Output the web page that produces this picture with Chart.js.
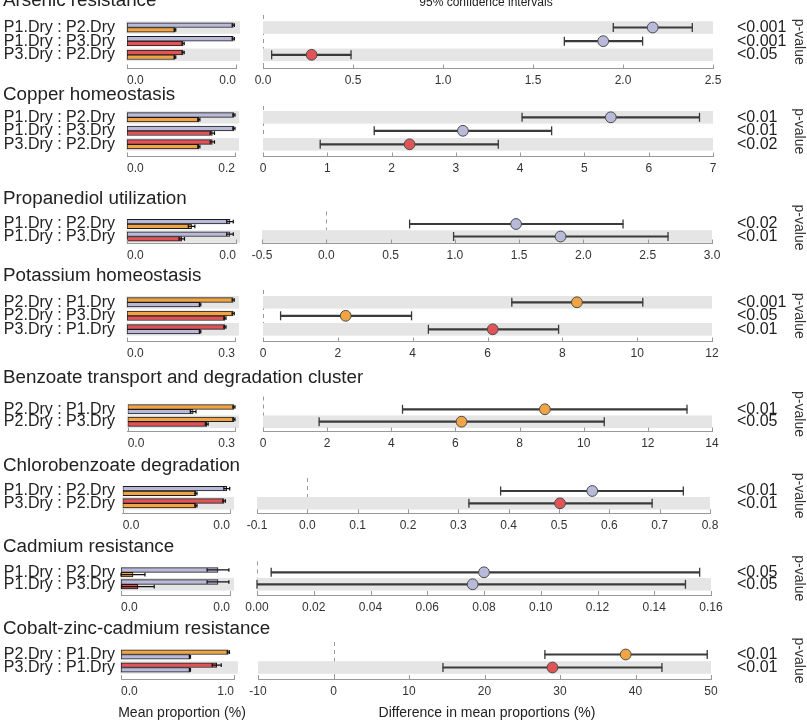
<!DOCTYPE html>
<html>
<head>
<meta charset="utf-8">
<script src="https://cdn.jsdelivr.net/npm/chart.js@4.4.1/dist/chart.umd.min.js"></script>
<style>
	body { margin: 0; background: #fff; font-family: "Liberation Sans", Arial, sans-serif; }
	#wrap { position: relative; width: 807px; height: 724px; overflow: hidden; background: #fff; }
	#wrap canvas { position: absolute; }
	.title { position: absolute; left: 3px; font-size: 18.8px; line-height: 18.8px; color: #222; white-space: nowrap; }
	.axisLabel { position: absolute; font-size: 14px; line-height: 14px; color: #222; white-space: nowrap; transform: translateX(-50%); }
</style>
</head>
<body>
<div id="wrap"></div>
<script>
/* Arsenic resistance */
const arsenicRows = ["P1.Dry : P2.Dry", "P1.Dry : P3.Dry", "P3.Dry : P2.Dry"];
const arsenicMeanA = [0.0390, 0.0390, 0.0206];
const arsenicErrA = [0.0004, 0.0004, 0.0004];
const arsenicMeanB = [0.0176, 0.0206, 0.0176];
const arsenicErrB = [0.0003, 0.0004, 0.0003];
const arsenicMeanTicks = [0, 0.04];
const arsenicDiff = [2.165, 1.890, 0.270];
const arsenicLow = [1.946, 1.674, 0.048];
const arsenicHigh = [2.385, 2.109, 0.489];
const arsenicPValues = ["<0.001", "<0.001", "<0.05"];
const arsenicDiffTicks = [0, 2.5, 0.5];

/* Copper homeostasis */
const copperRows = ["P1.Dry : P2.Dry", "P1.Dry : P3.Dry", "P3.Dry : P2.Dry"];
const copperMeanA = [0.198, 0.198, 0.158];
const copperErrA = [0.002, 0.002, 0.004];
const copperMeanB = [0.133, 0.158, 0.133];
const copperErrB = [0.002, 0.004, 0.002];
const copperMeanTicks = [0, 0.2];
const copperDiff = [5.41, 3.11, 2.28];
const copperLow = [4.03, 1.73, 0.89];
const copperHigh = [6.79, 4.49, 3.66];
const copperPValues = ["<0.01", "<0.01", "<0.02"];
const copperDiffTicks = [0, 7, 1];

/* Propanediol utilization */
const propanediolRows = ["P1.Dry : P2.Dry", "P1.Dry : P3.Dry"];
const propanediolMeanA = [0.0378, 0.0378];
const propanediolErrA = [0.0012, 0.0012];
const propanediolMeanB = [0.0237, 0.0201];
const propanediolErrB = [0.0012, 0.0010];
const propanediolMeanTicks = [0, 0.04];
const propanediolDiff = [1.476, 1.822];
const propanediolLow = [0.648, 0.990];
const propanediolHigh = [2.308, 2.658];
const propanediolPValues = ["<0.02", "<0.01"];
const propanediolDiffTicks = [-0.5, 3.0, 0.5];

/* Potassium homeostasis */
const potassiumRows = ["P2.Dry : P1.Dry", "P2.Dry : P3.Dry", "P3.Dry : P1.Dry"];
const potassiumMeanA = [0.295, 0.295, 0.272];
const potassiumErrA = [0.003, 0.003, 0.003];
const potassiumMeanB = [0.203, 0.272, 0.203];
const potassiumErrB = [0.002, 0.003, 0.002];
const potassiumMeanTicks = [0, 0.3];
const potassiumDiff = [8.39, 2.21, 6.14];
const potassiumLow = [6.65, 0.47, 4.42];
const potassiumHigh = [10.15, 3.97, 7.90];
const potassiumPValues = ["<0.001", "<0.05", "<0.01"];
const potassiumDiffTicks = [0, 12, 2];

/* Benzoate transport and degradation cluster */
const benzoateRows = ["P2.Dry : P1.Dry", "P2.Dry : P3.Dry"];
const benzoateMeanA = [0.297, 0.297];
const benzoateErrA = [0.003, 0.003];
const benzoateMeanB = [0.183, 0.221];
const benzoateErrB = [0.008, 0.004];
const benzoateMeanTicks = [0, 0.3];
const benzoateDiff = [8.79, 6.19];
const benzoateLow = [4.35, 1.75];
const benzoateHigh = [13.22, 10.64];
const benzoatePValues = ["<0.01", "<0.05"];
const benzoateDiffTicks = [0, 14, 2];

/* Chlorobenzoate degradation */
const chloroRows = ["P1.Dry : P2.Dry", "P3.Dry : P2.Dry"];
const chloroMeanA = [0.0388, 0.0378];
const chloroErrA = [0.0011, 0.0005];
const chloroMeanB = [0.0273, 0.0273];
const chloroErrB = [0.0004, 0.0004];
const chloroMeanTicks = [0, 0.04];
const chloroDiff = [0.566, 0.502];
const chloroLow = [0.384, 0.321];
const chloroHigh = [0.747, 0.685];
const chloroPValues = ["<0.01", "<0.01"];
const chloroDiffTicks = [-0.1, 0.8, 0.1];

/* Cadmium resistance */
const cadmiumRows = ["P1.Dry : P2.Dry", "P1.Dry : P3.Dry"];
const cadmiumMeanA = [0.00356, 0.00356];
const cadmiumErrA = [0.0004, 0.0004];
const cadmiumMeanB = [0.00044, 0.00062];
const cadmiumErrB = [0.00044, 0.0006];
const cadmiumMeanTicks = [0, 0.004];
const cadmiumDiff = [0.080, 0.076];
const cadmiumLow = [0.005, 0.000];
const cadmiumHigh = [0.156, 0.151];
const cadmiumPValues = ["<0.05", "<0.05"];
const cadmiumDiffTicks = [0, 0.16, 0.02];

/* Cobalt-zinc-cadmium resistance */
const cobaltRows = ["P2.Dry : P1.Dry", "P3.Dry : P1.Dry"];
const cobaltMeanA = [0.95, 0.847];
const cobaltErrA = [0.01, 0.04];
const cobaltMeanB = [0.61, 0.61];
const cobaltErrB = [0.005, 0.005];
const cobaltMeanTicks = [0, 1.0];
const cobaltDiff = [38.7, 29.0];
const cobaltLow = [28.0, 14.5];
const cobaltHigh = [49.5, 43.5];
const cobaltPValues = ["<0.01", "<0.01"];
const cobaltDiffTicks = [-10, 50, 10];

const groupColors = { P1: "#b9b9d9", P2: "#f1a443", P3: "#e05458" };

const panels = [
	{ title: "Arsenic resistance", rows: arsenicRows, meanA: arsenicMeanA, errA: arsenicErrA, meanB: arsenicMeanB, errB: arsenicErrB, meanTicks: arsenicMeanTicks, diff: arsenicDiff, low: arsenicLow, high: arsenicHigh, p: arsenicPValues, diffTicks: arsenicDiffTicks },
	{ title: "Copper homeostasis", rows: copperRows, meanA: copperMeanA, errA: copperErrA, meanB: copperMeanB, errB: copperErrB, meanTicks: copperMeanTicks, diff: copperDiff, low: copperLow, high: copperHigh, p: copperPValues, diffTicks: copperDiffTicks },
	{ title: "Propanediol utilization", rows: propanediolRows, meanA: propanediolMeanA, errA: propanediolErrA, meanB: propanediolMeanB, errB: propanediolErrB, meanTicks: propanediolMeanTicks, diff: propanediolDiff, low: propanediolLow, high: propanediolHigh, p: propanediolPValues, diffTicks: propanediolDiffTicks },
	{ title: "Potassium homeostasis", rows: potassiumRows, meanA: potassiumMeanA, errA: potassiumErrA, meanB: potassiumMeanB, errB: potassiumErrB, meanTicks: potassiumMeanTicks, diff: potassiumDiff, low: potassiumLow, high: potassiumHigh, p: potassiumPValues, diffTicks: potassiumDiffTicks },
	{ title: "Benzoate transport and degradation cluster", rows: benzoateRows, meanA: benzoateMeanA, errA: benzoateErrA, meanB: benzoateMeanB, errB: benzoateErrB, meanTicks: benzoateMeanTicks, diff: benzoateDiff, low: benzoateLow, high: benzoateHigh, p: benzoatePValues, diffTicks: benzoateDiffTicks },
	{ title: "Chlorobenzoate degradation", rows: chloroRows, meanA: chloroMeanA, errA: chloroErrA, meanB: chloroMeanB, errB: chloroErrB, meanTicks: chloroMeanTicks, diff: chloroDiff, low: chloroLow, high: chloroHigh, p: chloroPValues, diffTicks: chloroDiffTicks },
	{ title: "Cadmium resistance", rows: cadmiumRows, meanA: cadmiumMeanA, errA: cadmiumErrA, meanB: cadmiumMeanB, errB: cadmiumErrB, meanTicks: cadmiumMeanTicks, diff: cadmiumDiff, low: cadmiumLow, high: cadmiumHigh, p: cadmiumPValues, diffTicks: cadmiumDiffTicks },
	{ title: "Cobalt-zinc-cadmium resistance", rows: cobaltRows, meanA: cobaltMeanA, errA: cobaltErrA, meanB: cobaltMeanB, errB: cobaltErrB, meanTicks: cobaltMeanTicks, diff: cobaltDiff, low: cobaltLow, high: cobaltHigh, p: cobaltPValues, diffTicks: cobaltDiffTicks },
];

// page positions of each panel (title baseline, row centres, axis line, plot edges)
const layout = [
	{ base: 7, top: 15, rowY: [27.5, 41.2, 54.8], axisY: 68.5, lL: 127, lR: 236, rL: 263, rR: 713 },
	{ base: 101, top: 106, rowY: [117.3, 130.8, 144.3], axisY: 156.5, lL: 127, lR: 235, rL: 263, rR: 713 },
	{ base: 205, top: 211.5, rowY: [224, 236.5], axisY: 243.5, lL: 127, lR: 236, rL: 262, rR: 712 },
	{ base: 281.7, top: 290, rowY: [302.3, 315.7, 329.3], axisY: 341.5, lL: 127, lR: 235, rL: 263, rR: 712 },
	{ base: 384.3, top: 396.5, rowY: [409.3, 421.7], axisY: 431.5, lL: 127.7, lR: 235, rL: 263, rR: 712 },
	{ base: 471.7, top: 478, rowY: [491, 503.3], axisY: 513.3, lL: 122.7, lR: 230, rL: 257, rR: 710 },
	{ base: 553.3, top: 561.5, rowY: [572.3, 584.3], axisY: 595, lL: 121, lR: 230, rL: 257, rR: 711 },
	{ base: 635, top: 642, rowY: [654.5, 667.5], axisY: 679, lL: 121, lR: 234, rL: 258, rR: 711 },
];

Chart.defaults.font.family = '"Liberation Sans", Arial, sans-serif';
Chart.defaults.color = "#333";

const wrap = document.getElementById("wrap");
const LEFT_W = 245;
const RIGHT_X = 240;
const RIGHT_W = 807 - RIGHT_X;
const P_LABEL_X = 737;
const ROW_LABEL_END = 115;

function makeCanvas(left, top, w, h) {
	const c = document.createElement("canvas");
	c.width = w;
	c.height = h;
	c.style.left = left + "px";
	c.style.top = top + "px";
	c.style.width = w + "px";
	c.style.height = h + "px";
	wrap.appendChild(c);
	return c;
}

function addText(cls, text, left, top) {
	const d = document.createElement("div");
	d.className = cls;
	d.textContent = text;
	d.style.left = left + "px";
	d.style.top = top + "px";
	wrap.appendChild(d);
	return d;
}

function geometry(lay, n) {
	const pitch = (lay.rowY[n - 1] - lay.rowY[0]) / (n - 1);
	const canvasTop = Math.floor(lay.top) - 14;
	const H = Math.ceil(lay.axisY - canvasTop) + 24;
	return {
		canvasTop: canvasTop,
		H: H,
		padTop: lay.top - canvasTop,
		xH: H - (lay.axisY - canvasTop),
		yMin: -(lay.rowY[0] - lay.top) / pitch,
		yMax: (lay.axisY - lay.rowY[0]) / pitch,
	};
}

function groupOf(label, side) {
	const part = label.split(" : ")[side];
	return groupColors[part.slice(0, 2)];
}

function decimalsFor(step) {
	return Math.max(0, Math.ceil(-Math.log10(step) - 1e-9));
}

// grey bands on alternate rows, counted from the bottom row
function drawBands(chart, n, extraRight) {
	const { ctx, chartArea: a, scales: { y } } = chart;
	ctx.fillStyle = "#e5e5e5";
	const x0 = a.left - (extraRight ? 1 : 0);
	for (let i = n - 1; i >= 0; i -= 2) {
		const py = y.getPixelForValue(i);
		ctx.fillRect(x0, py - 6.3, a.right + extraRight - x0, 12.6);
	}
}

// short tick marks pointing up from the axis line
function drawInnerTicks(chart) {
	const { ctx, chartArea: a, scales: { x } } = chart;
	ctx.save();
	ctx.strokeStyle = "#999";
	ctx.lineWidth = 1;
	x.ticks.forEach((t) => {
		const px = Math.round(x.getPixelForValue(t.value)) + 0.5;
		ctx.beginPath();
		ctx.moveTo(px, a.bottom);
		ctx.lineTo(px, a.bottom - 4);
		ctx.stroke();
	});
	ctx.restore();
}

// invisible tick marks give the label gap without the padding pushing the plot area
function gapGrid(gap) {
	return { display: true, drawOnChartArea: false, drawTicks: true, tickLength: gap, color: "rgba(0,0,0,0)" };
}

const noGrid = { display: false, drawTicks: false };

function leftChart(p, lay) {
	const n = p.rows.length;
	const g = geometry(lay, n);
	const cv = makeCanvas(0, g.canvasTop, LEFT_W, g.H);
	const errs = [p.errA, p.errB];

	new Chart(cv, {
		type: "bar",
		data: {
			datasets: [
				{
					data: p.rows.map((r, i) => ({ x: p.meanA[i], y: i })),
					backgroundColor: p.rows.map((r) => groupOf(r, 0)),
				},
				{
					data: p.rows.map((r, i) => ({ x: p.meanB[i], y: i })),
					backgroundColor: p.rows.map((r) => groupOf(r, 1)),
				},
			],
		},
		options: {
			indexAxis: "y",
			responsive: false,
			animation: false,
			layout: { padding: { top: g.padTop, right: LEFT_W - lay.lR, left: 0, bottom: 0 } },
			plugins: { legend: { display: false }, tooltip: { enabled: false } },
			datasets: {
				bar: { barThickness: 4.7, borderWidth: 1, borderColor: "#1b1b1b", borderSkipped: false },
			},
			scales: {
				x: {
					type: "linear",
					min: p.meanTicks[0],
					max: p.meanTicks[1],
					offset: false,
					grid: noGrid,
					border: { display: true, color: "#999", width: 1 },
					afterBuildTicks: (s) => { s.ticks = p.meanTicks.map((v) => ({ value: v })); },
					afterFit: (s) => { s.height = g.xH; },
					ticks: {
						align: "inner",
						padding: 5,
						color: "#333",
						font: { size: 12 },
						maxRotation: 0,
						autoSkip: false,
						callback: (v) => Number(v).toFixed(1),
					},
				},
				y: {
					type: "linear",
					reverse: true,
					offset: false,
					min: g.yMin,
					max: g.yMax,
					grid: gapGrid(lay.lL - ROW_LABEL_END),
					border: { display: false },
					afterBuildTicks: (s) => { s.ticks = p.rows.map((r, i) => ({ value: i })); },
					afterFit: (s) => { s.width = lay.lL; },
					ticks: {
						padding: 0,
						autoSkip: false,
						color: "#222",
						font: { size: 16, lineHeight: 1 },
						callback: (v) => p.rows[Math.round(v)],
					},
				},
			},
		},
		plugins: [
			{
				id: "leftDecor",
				beforeDatasetsDraw(chart) {
					chart.ctx.save();
					drawBands(chart, n, 4);
					chart.ctx.restore();
				},
				afterDatasetsDraw(chart) {
					const { ctx, scales: { x } } = chart;
					ctx.save();
					ctx.strokeStyle = "#111";
					ctx.lineWidth = 1.2;
					[0, 1].forEach((d) => {
						const meta = chart.getDatasetMeta(d);
						const vals = d === 0 ? p.meanA : p.meanB;
						meta.data.forEach((bar, i) => {
							const x1 = x.getPixelForValue(vals[i] - errs[d][i]);
							const x2 = x.getPixelForValue(vals[i] + errs[d][i]);
							ctx.beginPath();
							ctx.moveTo(x1, bar.y);
							ctx.lineTo(x2, bar.y);
							ctx.moveTo(x1, bar.y - 1.8);
							ctx.lineTo(x1, bar.y + 1.8);
							ctx.moveTo(x2, bar.y - 1.8);
							ctx.lineTo(x2, bar.y + 1.8);
							ctx.stroke();
						});
					});
					ctx.restore();
				},
				afterDraw(chart) {
					drawInnerTicks(chart);
				},
			},
		],
	});
}

function rightChart(p, lay) {
	const n = p.rows.length;
	const g = geometry(lay, n);
	const cv = makeCanvas(RIGHT_X, g.canvasTop, RIGHT_W, g.H);
	const dec = decimalsFor(p.diffTicks[2]);

	new Chart(cv, {
		type: "bar",
		data: {
			datasets: [
				{
					type: "scatter",
					data: p.rows.map((r, i) => ({ x: p.diff[i], y: i })),
					pointRadius: 5.4,
					pointBackgroundColor: p.rows.map((r) => groupOf(r, 0)),
					pointBorderColor: "#4a4a4a",
					pointBorderWidth: 1,
				},
				{
					type: "bar",
					data: p.rows.map((r, i) => ({ x: [p.low[i], p.high[i]], y: i })),
					backgroundColor: "#3a3a3a",
					barThickness: 1.5,
					borderWidth: 0,
				},
			],
		},
		options: {
			indexAxis: "y",
			responsive: false,
			animation: false,
			layout: { padding: { top: g.padTop, left: lay.rL - RIGHT_X, right: 0, bottom: 0 } },
			plugins: { legend: { display: false }, tooltip: { enabled: false } },
			scales: {
				x: {
					type: "linear",
					min: p.diffTicks[0],
					max: p.diffTicks[1],
					offset: false,
					grid: noGrid,
					border: { display: true, color: "#999", width: 1 },
					afterFit: (s) => { s.height = g.xH; },
					ticks: {
						stepSize: p.diffTicks[2],
						padding: 5,
						color: "#333",
						font: { size: 12 },
						maxRotation: 0,
						autoSkip: false,
						callback: (v) => Number(v).toFixed(dec),
					},
				},
				y: {
					type: "linear",
					position: "right",
					reverse: true,
					offset: false,
					min: g.yMin,
					max: g.yMax,
					grid: gapGrid(P_LABEL_X - lay.rR),
					border: { display: false },
					afterBuildTicks: (s) => { s.ticks = p.rows.map((r, i) => ({ value: i })); },
					afterFit: (s) => { s.width = 807 - lay.rR; },
					ticks: {
						padding: 0,
						autoSkip: false,
						color: "#222",
						font: { size: 16, lineHeight: 1 },
						callback: (v) => p.p[Math.round(v)],
					},
					title: {
						display: true,
						text: "p-value",
						color: "#333",
						font: { size: 14 },
						padding: 0,
					},
				},
			},
		},
		plugins: [
			{
				id: "ciDecor",
				beforeDatasetsDraw(chart) {
					const { ctx, chartArea: a, scales: { x, y } } = chart;
					ctx.save();
					// dashed line at zero difference
					const zx = Math.round(x.getPixelForValue(0)) + 0.5;
					ctx.strokeStyle = "#999";
					ctx.lineWidth = 1;
					ctx.setLineDash([4, 4]);
					ctx.beginPath();
					ctx.moveTo(zx, a.top);
					ctx.lineTo(zx, a.bottom);
					ctx.stroke();
					ctx.setLineDash([]);
					drawBands(chart, n, 0);
					// whisker caps
					ctx.strokeStyle = "#3a3a3a";
					ctx.lineWidth = 1.3;
					p.rows.forEach((r, i) => {
						const py = y.getPixelForValue(i);
						[p.low[i], p.high[i]].forEach((v) => {
							const px = Math.max(a.left, x.getPixelForValue(v));
							ctx.beginPath();
							ctx.moveTo(px, py - 4.5);
							ctx.lineTo(px, py + 4.5);
							ctx.stroke();
						});
					});
					ctx.restore();
				},
				afterDraw(chart) {
					drawInnerTicks(chart);
				},
			},
		],
	});
}

panels.forEach((p, k) => {
	const lay = layout[k];
	leftChart(p, lay);
	rightChart(p, lay);
});

panels.forEach((p, k) => {
	addText("title", p.title, 3, layout[k].base - 15.9);
});

const top95 = addText("axisLabel", "95% confidence intervals", 486, -4);
top95.style.fontSize = "12px";
top95.style.lineHeight = "12px";
addText("axisLabel", "Mean proportion (%)", 182, 705);
addText("axisLabel", "Difference in mean proportions (%)", 487, 705);
</script>
</body>
</html>
